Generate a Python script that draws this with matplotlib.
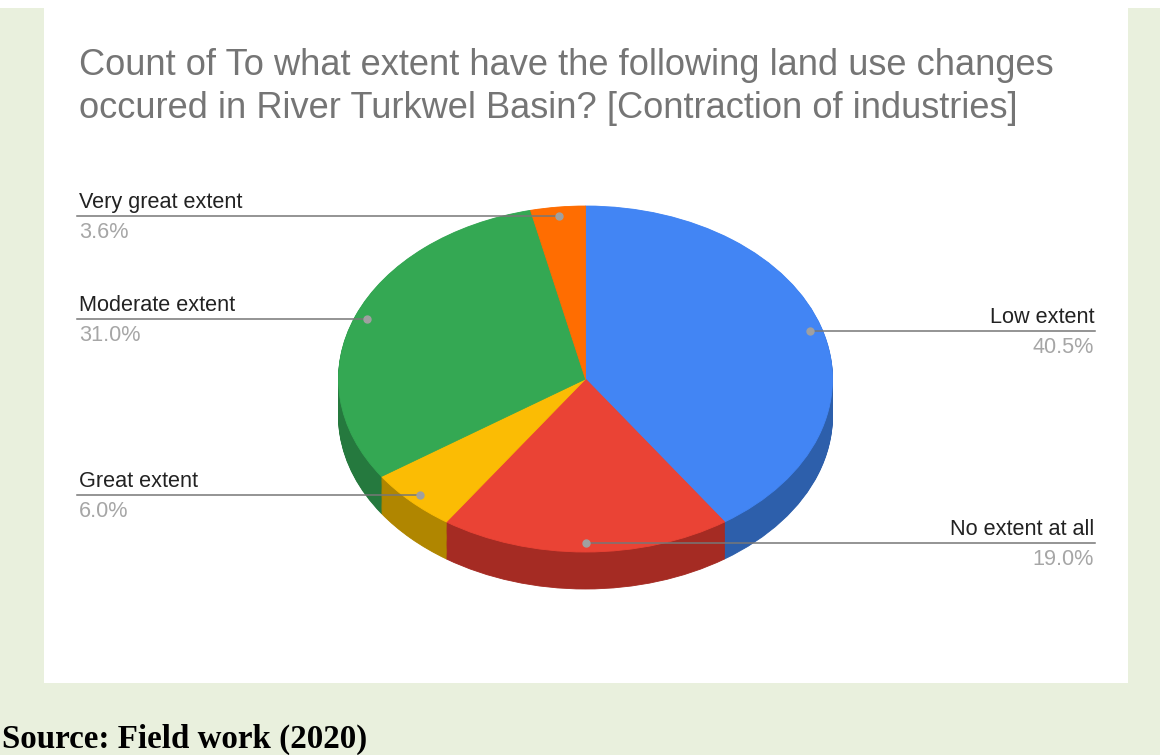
import numpy as np
import matplotlib
matplotlib.use("Agg")
import matplotlib.pyplot as plt
from matplotlib.patches import Rectangle

# data (counts, order clockwise from 12 o'clock)
categories = ["Low extent", "No extent at all", "Great extent", "Moderate extent", "Very great extent"]
counts = [34, 16, 5, 26, 3]
pct_labels = ["40.5%", "19.0%", "6.0%", "31.0%", "3.6%"]
top_colors = ["#4285f4", "#ea4335", "#fbbc04", "#34a853", "#ff6d01"]
side_colors = ["#2d5fab", "#a52b23", "#b08600", "#25793e", "#b34d00"]
label_side = ["right", "right", "left", "left", "left"]

title_lines = ["Count of To what extent have the following land use changes",
               "occured in River Turkwel Basin? [Contraction of industries]"]
source = "Source: Field work (2020)"

W, H = 1160, 755
cx, cy, rx, ry, depth = 585.5, 379, 247, 173, 37

fig = plt.figure(figsize=(W / 100, H / 100), dpi=100, facecolor="#e9f0dd")

# background panel
bg = fig.add_axes([0, 0, 1, 1], zorder=0)
bg.set_xlim(0, W)
bg.set_ylim(H, 0)
bg.axis("off")
bg.add_patch(Rectangle((0, 0), W, 8, color="white", lw=0))
bg.add_patch(Rectangle((44, 0), 1128 - 44, 683, color="white", lw=0))

# 3D-ish pie: stacked darker layers, then the top face
d = depth / ry
pie_ax = fig.add_axes([(cx - rx) / W, 1 - (cy + ry + depth) / H,
                       2 * rx / W, (2 * ry + depth) / H], zorder=1)
for k in np.linspace(d, 0.004, 40):
    pie_ax.pie(counts, colors=side_colors, startangle=90, counterclock=False,
               center=(0, -k), wedgeprops=dict(linewidth=0.6))
    for w in pie_ax.patches[-len(counts):]:
        w.set_edgecolor(w.get_facecolor())
wedges, _ = pie_ax.pie(counts, colors=top_colors, startangle=90, counterclock=False,
                       wedgeprops=dict(linewidth=0.6))
for w in wedges:
    w.set_edgecolor(w.get_facecolor())
pie_ax.set_aspect("auto")
pie_ax.set_xlim(-1, 1)
pie_ax.set_ylim(-1 - d, 1)
pie_ax.axis("off")

# overlay for texts and leader lines
ov = fig.add_axes([0, 0, 1, 1], zorder=2)
ov.set_xlim(0, W)
ov.set_ylim(H, 0)
ov.axis("off")
ov.patch.set_alpha(0)

ov.text(79, 75, title_lines[0], fontsize=26.1, color="#757575", family="Liberation Sans",
        va="baseline", ha="left")
ov.text(79, 118, title_lines[1], fontsize=26.1, color="#757575", family="Liberation Sans",
        va="baseline", ha="left")
ov.text(2, 748, source, fontsize=23.8, fontweight="bold", family="Liberation Serif",
        color="black", va="baseline", ha="left")

total = sum(counts)
cum = 0
for name, c, pct, side in zip(categories, counts, pct_labels, label_side):
    mid = np.deg2rad((cum + c / 2) / total * 360)
    cum += c
    px = cx + 0.95 * rx * np.sin(mid)
    py = cy - 0.95 * ry * np.cos(mid)
    if side == "left":
        x_txt, x_line, ha = 79, 77, "left"
    else:
        x_txt, x_line, ha = 1094, 1095, "right"
    ov.plot([px, x_line], [py, py], color="#777777", lw=1.1)
    ov.plot([px], [py], "o", color="#a0a0a0", ms=5)
    ov.text(x_txt, py - 8, name, fontsize=15.6, color="#222222", family="Liberation Sans",
            ha=ha, va="baseline")
    ov.text(x_txt, py + 22, pct, fontsize=15.6, color="#a6a6a6", family="Liberation Sans",
            ha=ha, va="baseline")

fig.savefig("out.png", dpi=100, facecolor=fig.get_facecolor())
